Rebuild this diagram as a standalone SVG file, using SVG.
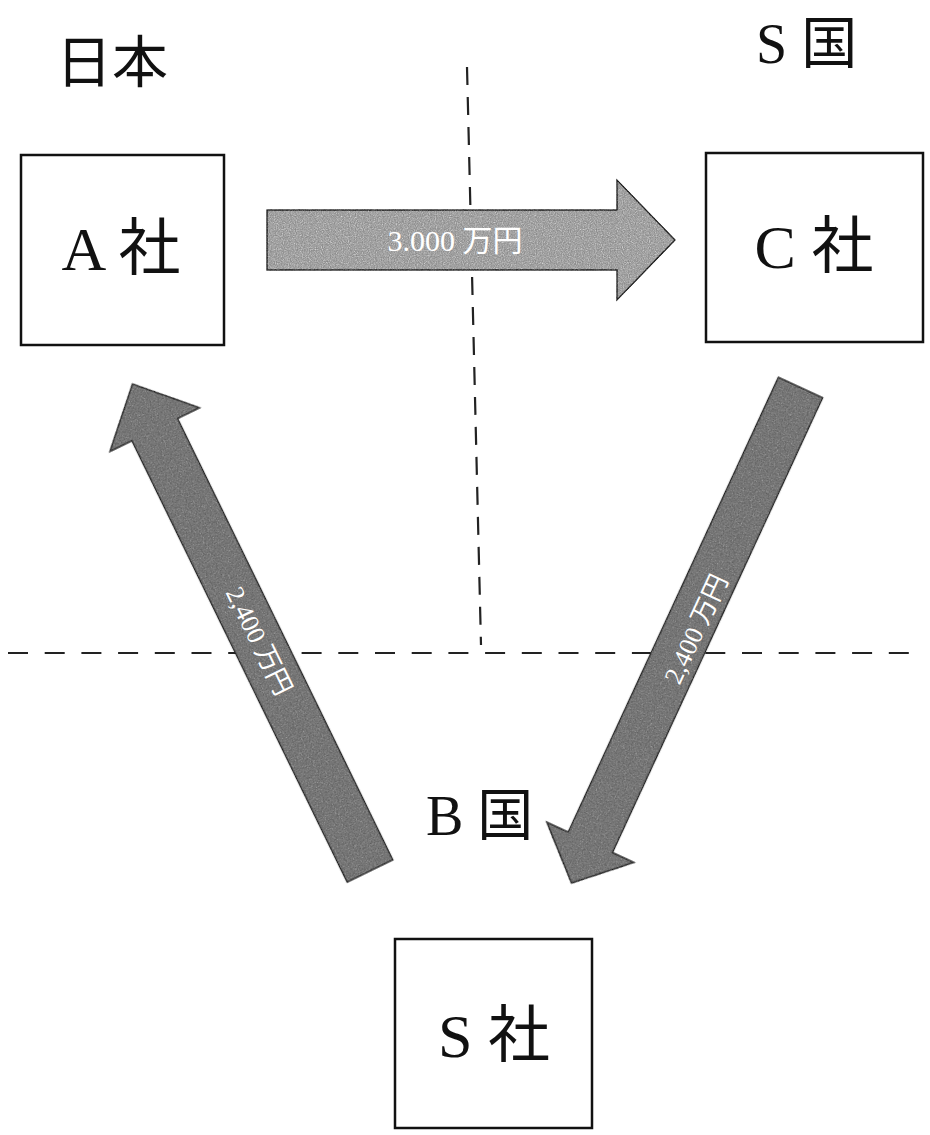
<svg xmlns="http://www.w3.org/2000/svg" width="930" height="1135" viewBox="0 0 930 1135">
  <style>
    .box { fill: #ffffff; stroke: #111111; stroke-width: 2.5; }
    .lbl { font-family: "Liberation Serif", "Noto Sans CJK JP", serif; fill: #111111; }
    .node { font-size: 62px; text-anchor: middle; }
    .region { font-size: 56px; }
    .arrow { stroke: #2a2a2a; stroke-width: 1.5; stroke-linejoin: miter; filter: url(#grain); }
    .h { fill: #a2a2a2; }
    .d { fill: #767676; }
    .amt { font-family: "Liberation Serif", "Noto Sans CJK JP", serif; fill: #ffffff; text-anchor: middle; dominant-baseline: central; }
    .num { font-family: "Liberation Serif", serif; }
    .dash { stroke: #222222; stroke-width: 2.2; fill: none; }
  </style>
  <defs>
    <filter id="grain" x="-5%" y="-5%" width="110%" height="110%" color-interpolation-filters="sRGB">
      <feTurbulence type="fractalNoise" baseFrequency="0.85" numOctaves="2" seed="7" result="noise"/>
      <feColorMatrix in="noise" type="saturate" values="0" result="gnoise"/>
      <feComposite in="SourceGraphic" in2="gnoise" operator="arithmetic" k1="0" k2="1" k3="0.6" k4="-0.15" result="mix"/>
      <feComposite in="mix" in2="SourceAlpha" operator="in"/>
    </filter>
  </defs>
  <rect x="0" y="0" width="930" height="1135" fill="#ffffff"/>

  <!-- boundary lines -->
  <g id="boundaries">
    <line class="dash" x1="8" y1="653" x2="925" y2="653" stroke-dasharray="20 16.7"/>
    <line class="dash" x1="467" y1="67" x2="481" y2="645" stroke-dasharray="18 12"/>
  </g>

  <!-- region labels -->
  <g id="region-labels">
    <text class="lbl region" x="56" y="82">日本</text>
    <text class="lbl region" x="756" y="63">S 国</text>
    <text class="lbl region" x="426" y="835">B 国</text>
  </g>

  <!-- connectors -->
  <g id="connectors">
    <g id="arrow-a-c">
      <polygon class="arrow h" points="267,210 617,210 617,180 675,240 617,300 617,270 267,270"/>
      <text class="amt" x="455" y="240" font-size="30"><tspan class="num">3.000 </tspan>万円</text>
    </g>
    <g id="arrow-s-a">
      <polygon class="arrow d" transform="translate(370,871) rotate(-116)" points="0,-25.5 491,-25.5 491,-50 542,0 491,50 491,25.5 0,25.5"/>
      <text class="amt" transform="translate(259,641) rotate(64)" font-size="26"><tspan class="num">2,400 </tspan>万円</text>
    </g>
    <g id="arrow-c-s">
      <polygon class="arrow d" transform="translate(800.5,387.5) rotate(114.8)" points="0,-24.5 501,-24.5 501,-48 546,0 501,48 501,24.5 0,24.5"/>
      <text class="amt" transform="translate(696,629) rotate(-65)" font-size="26"><tspan class="num">2,400 </tspan>万円</text>
    </g>
  </g>

  <!-- nodes -->
  <g id="node-a">
    <rect class="box" x="21" y="155" width="203" height="190"/>
    <text class="lbl node" x="121" y="270">A 社</text>
  </g>
  <g id="node-c">
    <rect class="box" x="706" y="153" width="217" height="189"/>
    <text class="lbl node" x="814" y="268">C 社</text>
  </g>
  <g id="node-s">
    <rect class="box" x="395" y="939" width="197" height="189"/>
    <text class="lbl node" x="494" y="1057">S 社</text>
  </g>
</svg>
